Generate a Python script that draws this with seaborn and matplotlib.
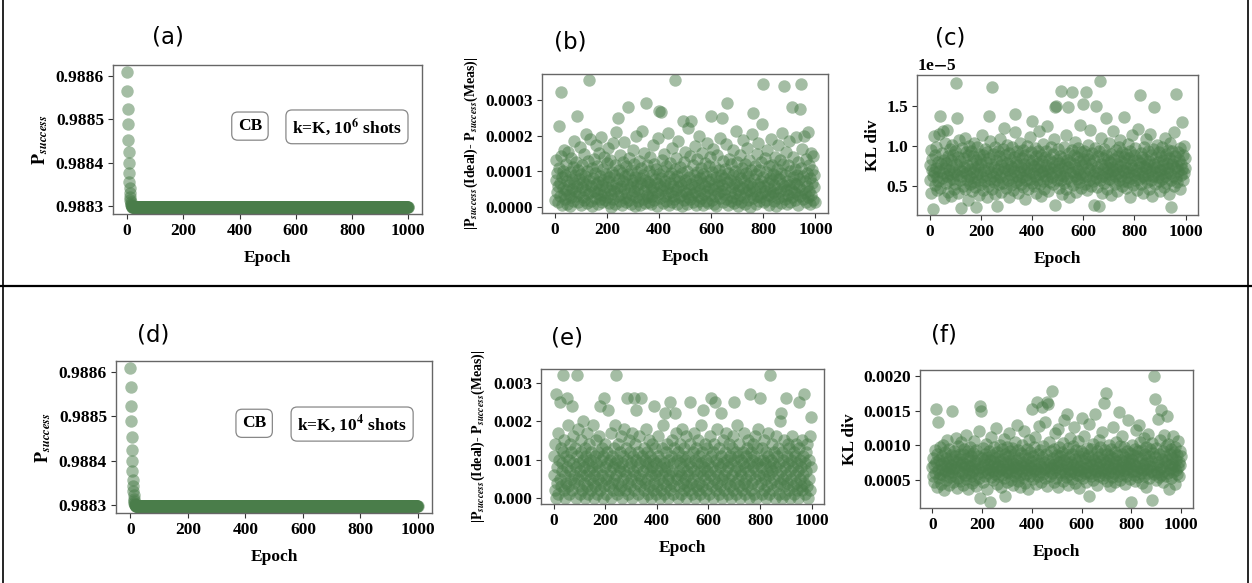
import numpy as np
import pandas as pd
import matplotlib
matplotlib.use("Agg")
import matplotlib.pyplot as plt
from matplotlib.lines import Line2D
import seaborn as sns

# ---------------- data ----------------
epochs_full = list(range(0, 1000))
epochs_half = list(range(0, 1000, 2))

# P_success: fast initial decay, then a plateau
p_success_start = [0.988609, 0.988566, 0.988524, 0.988489, 0.988453, 0.988424, 0.988400,
                   0.988377, 0.988357, 0.988343, 0.988331, 0.988322, 0.988315, 0.988310,
                   0.988306, 0.988303, 0.988301, 0.988300, 0.988299]
p_success_plateau = 0.988298
p_success = p_success_start + [p_success_plateau] * (1000 - len(p_success_start))

# |P_success(Ideal) - P_success(Meas)|, 10^6 shots (units of 1e-6)
diff_1e6 = [
    18, 132, 75, 41, 96, 12, 58, 226, 110, 67, 29, 143, 323, 84, 5, 52, 101, 37, 160, 22,
    88, 46, 120, 9, 71, 155, 34, 62, 3, 97, 138, 26, 79, 50, 112, 15, 184, 66, 43, 90,
    31, 125, 255, 58, 14, 103, 77, 39, 168, 6, 92, 54, 118, 27, 70, 147, 20, 85, 48, 205,
    63, 11, 99, 36, 128, 355, 74, 42, 190, 17, 57, 108, 2, 81, 135, 45, 24, 94, 65, 172,
    38, 115, 8, 69, 150, 51, 23, 87, 196, 33, 60, 13, 106, 76, 40, 140, 19, 93, 55, 122,
    28, 72, 164, 10, 83, 47, 131, 35, 0, 98, 61, 178, 21, 89, 44, 116, 7, 67, 210, 53,
    250, 30, 104, 78, 16, 145, 59, 37, 95, 4, 126, 71, 49, 182, 25, 86, 113, 12, 64, 39,
    280, 91, 20, 136, 56, 9, 102, 74, 32, 158, 68, 45, 119, 1, 84, 200, 27, 62, 97, 15,
    50, 129, 36, 81, 6, 109, 66, 214, 23, 90, 43, 152, 11, 75, 290, 58, 33, 117, 70, 26,
    100, 14, 63, 141, 48, 8, 88, 31, 174, 55, 120, 19, 79, 42, 107, 3, 68, 192, 35, 93,
    270, 57, 24, 265, 82, 130, 46, 10, 99, 61, 148, 29, 73, 17, 114, 52, 206, 38, 87, 5,
    66, 124, 40, 96, 13, 165, 59, 30, 78, 21, 355, 105, 48, 137, 7, 85, 54, 186, 26, 72,
    111, 34, 60, 2, 94, 240, 45, 127, 18, 76, 154, 39, 67, 9, 101, 220, 28, 83, 50, 142,
    22, 64, 242, 35, 118, 12, 89, 56, 170, 41, 74, 6, 133, 97, 29, 62, 198, 15, 80, 47,
    109, 25, 68, 151, 4, 92, 37, 123, 58, 16, 86, 180, 43, 71, 10, 115, 53, 33, 139, 77,
    256, 20, 98, 49, 161, 8, 65, 112, 30, 84, 1, 146, 57, 38, 104, 72, 194, 24, 90, 44,
    248, 61, 13, 128, 80, 36, 106, 51, 21, 175, 290, 69, 95, 5, 134, 42, 76, 17, 119, 55,
    28, 88, 158, 11, 63, 100, 39, 212, 70, 23, 125, 46, 3, 93, 59, 144, 32, 81, 14, 108,
    52, 188, 27, 74, 121, 7, 96, 41, 166, 60, 19, 87, 48, 132, 0, 68, 103, 35, 203, 56,
    262, 24, 79, 113, 43, 9, 91, 149, 31, 65, 178, 15, 102, 54, 26, 126, 71, 232, 38, 84,
    345, 12, 58, 137, 45, 97, 20, 160, 67, 33, 114, 6, 82, 49, 191, 29, 75, 118, 40, 92,
    16, 62, 141, 36, 85, 2, 107, 53, 172, 25, 77, 130, 44, 10, 95, 64, 208, 31, 120, 57,
    338, 22, 89, 47, 155, 8, 73, 116, 34, 60, 185, 14, 99, 51, 27, 280, 83, 139, 42, 68,
    105, 18, 64, 196, 37, 90, 4, 127, 56, 78, 275, 29, 110, 345, 48, 163, 21, 86, 200, 39,
    71, 13, 135, 58, 94, 26, 210, 45, 117, 7, 81, 152, 33, 66, 102, 19, 143, 55, 88, 12,
]

# KL divergence, 10^6 shots (units of 1e-7)
kl_1e6 = [
    76, 58, 95, 41, 70, 84, 63, 22, 112, 67, 51, 88, 73, 99, 45, 61, 80, 56, 115, 69,
    137, 48, 77, 91, 60, 118, 66, 35, 83, 72, 104, 54, 79, 62, 120, 43, 87, 70, 57, 96,
    65, 82, 38, 74, 101, 59, 89, 47, 68, 93, 53, 78, 178, 64, 134, 86, 42, 71, 107, 58,
    81, 62, 23, 97, 69, 50, 85, 74, 110, 46, 66, 92, 57, 76, 33, 89, 63, 100, 52, 71,
    94, 60, 79, 44, 87, 68, 55, 103, 73, 49, 24, 82, 65, 98, 58, 75, 39, 90, 67, 84,
    53, 77, 113, 61, 88, 45, 70, 96, 56, 80, 64, 37, 92, 72, 50, 137, 85, 59, 106, 68,
    78, 47, 173, 63, 90, 55, 74, 99, 40, 83, 66, 58, 25, 94, 71, 52, 87, 61, 109, 76,
    43, 81, 67, 96, 54, 122, 73, 62, 88, 48, 79, 101, 57, 70, 36, 91, 65, 84, 51, 75,
    98, 60, 72, 45, 86, 69, 117, 140, 55, 80, 63, 93, 41, 76, 58, 89, 67, 104, 52, 74,
    85, 61, 95, 49, 70, 78, 34, 88, 64, 57, 100, 73, 46, 82, 68, 111, 59, 77, 92, 54,
    131, 66, 83, 50, 75, 97, 62, 42, 87, 71, 58, 94, 79, 65, 119, 53, 74, 89, 38, 68,
    81, 56, 102, 70, 47, 86, 63, 93, 76, 59, 124, 69, 44, 84, 72, 55, 98, 66, 80, 61,
    90, 52, 75, 108, 26, 148, 67, 150, 58, 82, 71, 96, 48, 79, 64, 87, 57, 168, 73, 40,
    85, 62, 99, 54, 77, 69, 114, 46, 83, 60, 148, 74, 91, 37, 66, 80, 56, 167, 95, 68,
    51, 78, 88, 63, 105, 72, 43, 86, 59, 97, 70, 55, 81, 126, 65, 48, 92, 76, 61, 84,
    152, 67, 94, 53, 79, 167, 62, 89, 45, 73, 101, 58, 84, 70, 120, 50, 77, 91, 64, 56,
    26, 82, 69, 97, 60, 150, 74, 49, 87, 66, 25, 93, 180, 57, 78, 110, 63, 41, 85, 71,
    96, 54, 76, 61, 88, 135, 68, 47, 83, 72, 59, 103, 65, 80, 39, 90, 74, 57, 118, 69,
    84, 63, 52, 95, 71, 78, 44, 87, 66, 99, 58, 75, 107, 62, 81, 50, 92, 70, 56, 86,
    136, 67, 79, 48, 90, 61, 73, 102, 55, 85, 68, 36, 94, 76, 60, 113, 72, 83, 51, 64,
    88, 57, 97, 70, 45, 82, 66, 121, 74, 59, 163, 79, 53, 91, 68, 86, 62, 42, 99, 75,
    60, 84, 72, 108, 55, 77, 93, 64, 47, 81, 69, 115, 58, 89, 73, 38, 96, 63, 78, 148,
    67, 52, 86, 74, 101, 61, 80, 56, 92, 70, 44, 87, 65, 98, 59, 76, 83, 49, 71, 110,
    63, 90, 54, 79, 68, 95, 73, 40, 85, 66, 104, 58, 24, 77, 93, 62, 81, 50, 117, 72,
    87, 60, 164, 75, 55, 92, 69, 83, 46, 97, 64, 78, 130, 71, 58, 89, 66, 100, 73, 85,
]

# |P_success(Ideal) - P_success(Meas)|, 10^4 shots (units of 1e-4)
diff_1e4 = [
    6, 11, 2, 14, 0, 27, 8, 4, 17, 1, 10, 5, 25, 13, 3, 9, 7, 32, 12, 2,
    15, 6, 0, 11, 4, 26, 8, 19, 3, 10, 1, 7, 14, 5, 12, 24, 2, 9, 16, 6,
    4, 13, 8, 0, 11, 32, 5, 18, 3, 9, 7, 1, 12, 15, 6, 2, 10, 20, 4, 8,
    13, 0, 6, 11, 3, 17, 9, 1, 7, 14, 5, 10, 2, 12, 8, 19, 4, 0, 6, 11,
    3, 9, 15, 7, 1, 12, 5, 16, 8, 2, 24, 10, 4, 13, 6, 0, 11, 26, 3, 8,
    14, 5, 1, 9, 12, 23, 6, 3, 10, 7, 0, 17, 4, 11, 8, 2, 13, 5, 19, 9,
    32, 6, 1, 10, 14, 4, 8, 2, 12, 7, 16, 3, 9, 0, 11, 5, 18, 7, 2, 13,
    6, 10, 26, 4, 1, 15, 8, 12, 3, 9, 5, 17, 0, 11, 7, 26, 2, 14, 6, 10,
    23, 4, 8, 1, 12, 6, 16, 3, 9, 5, 26, 11, 0, 7, 13, 2, 10, 4, 18, 8,
    5, 12, 1, 9, 15, 3, 7, 11, 0, 6, 14, 8, 2, 10, 4, 24, 6, 13, 1, 9,
    7, 3, 16, 11, 5, 0, 10, 8, 2, 13, 6, 19, 4, 9, 1, 22, 7, 12, 3, 14,
    8, 5, 0, 10, 6, 25, 2, 11, 4, 15, 7, 1, 9, 13, 3, 22, 6, 17, 10, 5,
    0, 12, 7, 3, 9, 14, 1, 6, 18, 11, 4, 8, 2, 13, 5, 10, 0, 16, 7, 3,
    11, 6, 9, 2, 14, 25, 4, 8, 1, 12, 5, 17, 7, 0, 10, 3, 13, 6, 9, 2,
    15, 4, 11, 7, 1, 9, 19, 3, 12, 6, 23, 0, 8, 14, 5, 10, 2, 7, 13, 4,
    9, 1, 16, 6, 11, 26, 3, 8, 12, 0, 5, 14, 25, 7, 2, 10, 4, 18, 9, 6,
    1, 13, 8, 3, 11, 22, 5, 0, 9, 15, 6, 2, 12, 7, 17, 4, 10, 1, 8, 14,
    5, 11, 3, 9, 0, 13, 6, 16, 2, 10, 25, 7, 4, 12, 1, 8, 19, 5, 11, 3,
    14, 7, 0, 10, 6, 2, 12, 9, 4, 17, 8, 1, 11, 5, 13, 3, 7, 15, 0, 9,
    27, 6, 12, 2, 10, 4, 14, 8, 1, 11, 5, 16, 7, 0, 9, 13, 3, 18, 6, 10,
    26, 4, 8, 1, 13, 6, 10, 2, 15, 9, 5, 0, 12, 7, 3, 11, 17, 6, 1, 8,
    32, 10, 4, 14, 7, 2, 9, 12, 5, 0, 16, 8, 3, 11, 6, 13, 1, 9, 20, 4,
    22, 7, 0, 12, 5, 10, 3, 15, 8, 1, 26, 6, 11, 4, 14, 9, 2, 13, 7, 0,
    10, 5, 16, 3, 8, 12, 1, 6, 11, 4, 14, 9, 2, 7, 0, 25, 13, 5, 10, 3,
    8, 15, 2, 11, 6, 27, 4, 9, 1, 12, 7, 3, 14, 0, 10, 5, 16, 2, 8, 21,
]

# KL divergence, 10^4 shots (units of 1e-5)
kl_1e4 = [
    68, 55, 82, 71, 47, 93, 60, 152, 76, 39, 88, 64, 133, 52, 79, 97, 58, 73, 44, 85,
    66, 101, 57, 74, 35, 90, 62, 81, 49, 70, 108, 59, 77, 43, 95, 67, 54, 86, 72, 61,
    150, 78, 46, 92, 65, 56, 84, 110, 69, 38, 75, 99, 53, 80, 63, 88, 48, 71, 104, 59,
    76, 42, 87, 68, 94, 57, 73, 115, 51, 82, 64, 36, 91, 70, 60, 79, 98, 55, 85, 45,
    72, 89, 62, 106, 50, 77, 67, 93, 41, 74, 58, 84, 65, 120, 53, 157, 23, 150, 69, 81,
    61, 96, 47, 78, 71, 88, 56, 102, 64, 37, 83, 73, 59, 92, 66, 18, 79, 54, 112, 70,
    86, 63, 49, 97, 75, 58, 81, 68, 125, 44, 90, 72, 55, 84, 62, 100, 77, 40, 66, 94,
    57, 80, 70, 109, 52, 27, 88, 64, 76, 98, 61, 46, 85, 73, 118, 59, 67, 91, 50, 79,
    96, 63, 74, 43, 87, 69, 55, 104, 78, 60, 130, 72, 48, 93, 65, 82, 57, 39, 89, 71,
    62, 100, 53, 76, 68, 121, 45, 86, 73, 58, 95, 64, 81, 36, 70, 107, 56, 90, 67, 77,
    152, 60, 84, 51, 97, 72, 63, 112, 44, 79, 163, 66, 88, 55, 74, 128, 61, 93, 47, 70,
    155, 83, 58, 99, 65, 76, 134, 52, 87, 69, 163, 41, 160, 78, 62, 105, 73, 56, 91, 67,
    178, 59, 82, 71, 46, 94, 64, 118, 77, 53, 86, 68, 124, 39, 75, 98, 61, 84, 57, 72,
    90, 65, 103, 48, 79, 137, 60, 88, 70, 54, 145, 74, 96, 42, 83, 66, 111, 58, 76, 63,
    87, 51, 72, 99, 61, 127, 45, 80, 68, 93, 57, 75, 64, 106, 38, 85, 70, 55, 92, 62,
    140, 78, 53, 89, 67, 114, 59, 81, 73, 47, 96, 63, 86, 69, 131, 27, 77, 60, 94, 56,
    71, 84, 49, 102, 66, 79, 58, 146, 74, 62, 91, 43, 83, 68, 108, 55, 76, 97, 61, 87,
    64, 119, 52, 80, 72, 161, 93, 57, 75, 66, 176, 48, 88, 70, 59, 101, 78, 41, 85, 63,
    95, 67, 54, 82, 126, 73, 60, 90, 46, 77, 104, 65, 86, 56, 71, 148, 62, 99, 50, 79,
    69, 88, 113, 58, 76, 64, 97, 44, 83, 72, 55, 92, 66, 136, 61, 80, 74, 51, 89, 68,
    18, 78, 100, 63, 86, 57, 73, 95, 48, 122, 70, 84, 62, 91, 54, 129, 76, 67, 105, 59,
    81, 45, 93, 71, 64, 110, 56, 87, 74, 39, 98, 66, 79, 60, 117, 52, 85, 70, 94, 62,
    77, 103, 20, 68, 89, 200, 58, 167, 83, 49, 96, 72, 61, 138, 75, 54, 88, 65, 107, 57,
    151, 80, 69, 92, 47, 115, 63, 84, 74, 99, 56, 78, 142, 60, 102, 71, 36, 87, 66, 94,
    53, 82, 73, 113, 61, 90, 70, 44, 97, 64, 79, 58, 86, 106, 68, 75, 55, 92, 72, 84,
]

panel_letters = ["(a)", "(b)", "(c)", "(d)", "(e)", "(f)"]
shots_labels = [r"k=K, 10$^{\mathbf{6}}$ shots", r"k=K, 10$^{\mathbf{4}}$ shots"]

# ---------------- style ----------------
sns.set_style("ticks")
plt.rcParams["font.family"] = ["Liberation Serif", "DejaVu Serif"]
plt.rcParams["font.weight"] = "bold"
plt.rcParams["mathtext.fontset"] = "stix"
plt.rcParams["axes.labelweight"] = "bold"
for key in ("text.color", "axes.labelcolor", "xtick.color", "ytick.color"):
    plt.rcParams[key] = "black"

GREEN = "#4a7d4a"
ALPHA = 0.5
SIZE = 80

fig = plt.figure(figsize=(12.52, 5.83), dpi=100)

positions = [
    [0.0903, 0.6329, 0.2468, 0.2556],
    [0.4329, 0.6346, 0.2284, 0.2384],
    [0.7324, 0.6312, 0.2244, 0.2401],
    [0.0927, 0.1201, 0.2524, 0.2607],
    [0.4321, 0.1355, 0.2260, 0.2316],
    [0.7348, 0.1286, 0.2181, 0.2367],
]
axes = [fig.add_axes(p) for p in positions]

df_p = pd.DataFrame({"epoch": epochs_full, "val": p_success})
df_b = pd.DataFrame({"epoch": epochs_half, "val": np.array(diff_1e6) * 1e-6})
df_c = pd.DataFrame({"epoch": epochs_half, "val": np.array(kl_1e6) * 1e-7})
df_e = pd.DataFrame({"epoch": epochs_half, "val": np.array(diff_1e4) * 1e-4})
df_f = pd.DataFrame({"epoch": epochs_half, "val": np.array(kl_1e4) * 1e-5})
frames = [df_p, df_b, df_c, df_p, df_e, df_f]

diff_label = r"|$\mathbf{P}_{success}$(Ideal)- $\mathbf{P}_{success}$(Meas)|"
ylabels = [r"$\mathbf{P}_{success}$", diff_label, "KL div",
           r"$\mathbf{P}_{success}$", diff_label, "KL div"]
ylabel_sizes = [13, 10, 12.5, 13, 10, 12.5]

for ax, df, yl, ys in zip(axes, frames, ylabels, ylabel_sizes):
    sns.scatterplot(data=df, x="epoch", y="val", ax=ax, color=GREEN,
                    alpha=ALPHA, s=SIZE, linewidth=0, legend=False)
    ax.set_xlabel("Epoch", fontsize=12.5, fontweight="bold", labelpad=8)
    ax.set_ylabel(yl, fontsize=ys, fontweight="bold")
    ax.set_xticks([0, 200, 400, 600, 800, 1000])
    for sp in ax.spines.values():
        sp.set_visible(True)
        sp.set_color("#666666")
        sp.set_linewidth(1.0)
    ax.tick_params(axis="both", labelsize=12.5, length=3.5, width=0.8,
                   color="#333333", labelcolor="black", pad=3)
    for lab in ax.get_xticklabels() + ax.get_yticklabels():
        lab.set_fontweight("bold")

# y ticks
for ax in (axes[0], axes[3]):
    ax.set_yticks([0.9883, 0.9884, 0.9885, 0.9886])
    ax.set_yticklabels(["0.9883", "0.9884", "0.9885", "0.9886"], fontweight="bold")
axes[1].set_yticks([0.0, 0.0001, 0.0002, 0.0003])
axes[1].set_yticklabels(["0.0000", "0.0001", "0.0002", "0.0003"], fontweight="bold")
axes[4].set_yticks([0.0, 0.001, 0.002, 0.003])
axes[4].set_yticklabels(["0.000", "0.001", "0.002", "0.003"], fontweight="bold")
axes[5].set_yticks([0.0005, 0.0010, 0.0015, 0.0020])
axes[5].set_yticklabels(["0.0005", "0.0010", "0.0015", "0.0020"], fontweight="bold")
axes[2].set_yticks([0.5e-5, 1.0e-5, 1.5e-5])
axes[2].set_yticklabels(["0.5", "1.0", "1.5"], fontweight="bold")
axes[2].text(0.0, 1.01, r"1e$-$5", transform=axes[2].transAxes, fontsize=12.5,
             fontweight="bold", ha="left", va="bottom", color="black")

# annotation boxes
box = dict(boxstyle="round,pad=0.35", facecolor="white", edgecolor="#888888", linewidth=0.9)
for ax, lab, cb_x, k_x in ((axes[0], shots_labels[0], 0.443, 0.757),
                           (axes[3], shots_labels[1], 0.437, 0.747)):
    ax.text(cb_x, 0.59, "CB", transform=ax.transAxes, fontsize=12.5, fontweight="bold",
            ha="center", va="center", bbox=box, color="black")
    ax.text(k_x, 0.585, lab, transform=ax.transAxes, fontsize=12.5, fontweight="bold",
            ha="center", va="center", bbox=box, color="black")

# panel letters (figure pixel centres)
W, H = 1252, 583
letter_pos = [(168, 37), (570, 42), (950, 38), (153, 335), (567, 338), (944, 335)]
for t, (px, py) in zip(panel_letters, letter_pos):
    fig.text(px / W, 1 - py / H, t, fontsize=16.5, family="DejaVu Sans",
             fontweight="normal", ha="center", va="center", color="black")

# frame lines
fig.add_artist(Line2D([0, 1], [1 - 285.5 / H] * 2, transform=fig.transFigure,
                      color="black", linewidth=1.6))
fig.add_artist(Line2D([2.5 / W] * 2, [0, 1], transform=fig.transFigure,
                      color="black", linewidth=1.2))
fig.add_artist(Line2D([1248 / W] * 2, [0, 1], transform=fig.transFigure,
                      color="black", linewidth=1.2))

fig.savefig("out.png", dpi=100)
